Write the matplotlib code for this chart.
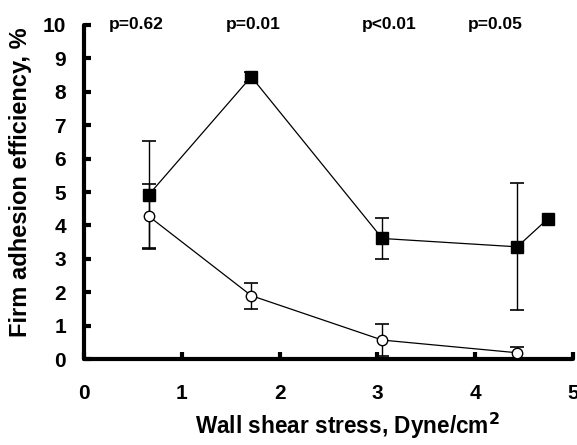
import matplotlib
matplotlib.use("Agg")
import matplotlib.pyplot as plt

plt.rcParams['font.family'] = ['Liberation Sans', 'DejaVu Sans']
plt.rcParams['font.weight'] = 'bold'

# Data
x_sq = [0.66, 1.71, 3.05, 4.43, 4.74]
y_sq = [4.91, 8.45, 3.61, 3.36, 4.19]
e_sq = [1.63, 0.15, 0.60, 1.90, 0.0]

x_ci = [0.66, 1.71, 3.05, 4.43]
y_ci = [4.28, 1.90, 0.57, 0.19]
e_ci = [0.95, 0.39, 0.47, 0.18]

p_labels = ["p=0.62", "p=0.01", "p<0.01", "p=0.05"]
p_x = [0.53, 1.73, 3.12, 4.21]

xticks = [0, 1, 2, 3, 4, 5]
yticks = [0, 1, 2, 3, 4, 5, 6, 7, 8, 9, 10]

fig = plt.figure(figsize=(5.77, 4.45), dpi=100)
ax = fig.add_axes([0.1456, 0.193, 0.993 - 0.1456, 0.944 - 0.193])

ax.errorbar(x_sq[:4], y_sq[:4], yerr=e_sq[:4], fmt='none', ecolor='black',
            elinewidth=1.0, capsize=4.7, capthick=1.2, zorder=2)
ax.errorbar(x_ci, y_ci, yerr=e_ci, fmt='none', ecolor='black',
            elinewidth=1.0, capsize=4.7, capthick=1.2, zorder=2)
ax.plot(x_sq, y_sq, color='black', lw=0.9, marker='s', markersize=8,
        markerfacecolor='black', markeredgecolor='black', zorder=3)
ax.plot(x_ci, y_ci, color='black', lw=0.9, marker='o', markersize=7.5,
        markerfacecolor='white', markeredgecolor='black', markeredgewidth=1.0, zorder=3)

for px, lab in zip(p_x, p_labels):
    ax.text(px, 10, lab, ha='center', va='center', fontsize=12.5, fontweight='bold')

ax.set_xlim(0, 5)
ax.set_ylim(0, 10)
ax.set_xticks(xticks)
ax.set_yticks(yticks)
ax.set_xticklabels([str(t) for t in xticks], fontsize=15, fontweight='bold')
ax.set_yticklabels([str(t) for t in yticks], fontsize=15, fontweight='bold')
ax.tick_params(axis='x', direction='in', length=5, width=3, pad=18)
ax.tick_params(axis='y', direction='in', length=5, width=3, pad=13)

for s in ['top', 'right']:
    ax.spines[s].set_visible(False)
for s in ['left', 'bottom']:
    ax.spines[s].set_linewidth(3)
    ax.spines[s].set_capstyle('round')

ax.set_xlabel("Wall shear stress, Dyne/cm$^\\mathbf{2}$", fontsize=16.3, fontweight='bold')
ax.xaxis.set_label_coords(0.538, -0.155)
ax.set_ylabel("Firm adhesion efficiency, %", fontsize=17, fontweight='bold')
ax.yaxis.set_label_coords(-0.106, 0.53)

for lbl in ax.get_xticklabels() + ax.get_yticklabels():
    lbl.set_clip_on(False)

fig.savefig("out.png", dpi=100)
